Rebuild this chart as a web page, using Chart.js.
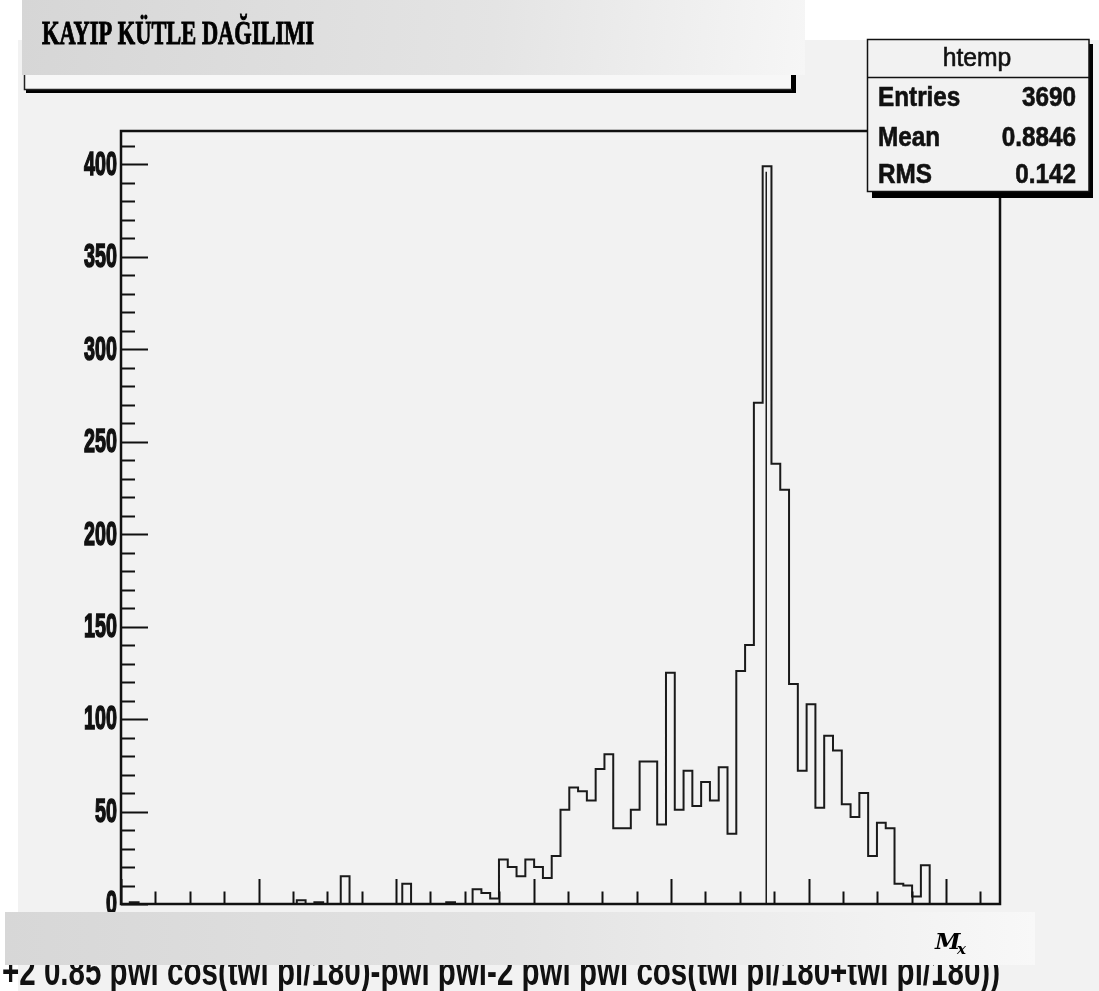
<!DOCTYPE html>
<html>
<head>
<meta charset="utf-8">
<script src="https://cdn.jsdelivr.net/npm/chart.js@4.4.1/dist/chart.umd.min.js"></script>
<style>
  body { margin: 0; background: #fff; }
  #wrap { width: 1099px; height: 991px; }
</style>
</head>
<body>
<div id="wrap"><canvas id="myChart" width="1099" height="991"></canvas></div>
<script>
// text
const titleText = `KAYIP KÜTLE DAĞILIMI`
const axisTitle = `+2 0.85 pwi cos(twi pi/180)-pwi pwi-2 pwi pwi cos(twi pi/180+twi pi/180))`
const histName = `htemp`
const statLabels = [`Entries`, `Mean`, `RMS`]
const statValues = [`3690`, `0.8846`, `0.142`]

// axes
const xMin = 0
const xMax = 1.2785
const yMax = 418
const yTickValues = [0, 50, 100, 150, 200, 250, 300, 350, 400]

// 100 bins, counts
const binCounts = [
  0, 1, 0, 0, 0, 0, 0, 0, 0, 0,
  0, 0, 0, 0, 0, 0, 0, 0, 0, 0,
  2, 0, 1, 0, 0, 15, 0, 0, 0, 0,
  0, 0, 11, 0, 0, 0, 0, 1, 0, 0,
  8, 6, 3, 24, 20, 15, 24, 20, 14, 26,
  51, 63, 61, 56, 73, 81, 41, 41, 51, 77,
  77, 43, 125, 51, 72, 53, 66, 56, 74, 38,
  126, 140, 271, 399, 238, 224, 119, 72, 108, 52,
  91, 83, 54, 47, 60, 26, 44, 41, 11, 10,
  4, 21, 0, 0, 0, 0, 0, 0, 0, 0
]

// vertical marker line
const markerX = 0.9385
const markerTop = 396

const binWidth = (xMax - xMin) / binCounts.length
let histPoints = binCounts.map((c, i) => ({ x: xMin + i * binWidth, y: c }))
histPoints.push({ x: xMax, y: binCounts[binCounts.length - 1] })

const sans = `"Liberation Sans", Arial, sans-serif`

// draw text squeezed horizontally by sx, optional extra stroke weight
function squeezed(ctx, text, x, y, sx, align, weight) {
  const w = ctx.measureText(text).width
  ctx.save()
  ctx.translate(x, y)
  ctx.scale(sx, 1)
  ctx.textAlign = 'left'
  let off = 0
  if (align === 'right') off = -w
  if (align === 'center') off = -w / 2
  ctx.fillText(text, off, 0)
  if (weight) {
    ctx.strokeStyle = ctx.fillStyle
    ctx.lineWidth = weight
    ctx.strokeText(text, off, 0)
  }
  ctx.restore()
}
function fitText(ctx, text, x, y, width, align, weight) {
  squeezed(ctx, text, x, y, width / ctx.measureText(text).width, align, weight)
}

const rootLook = {
  id: 'rootLook',
  beforeDraw(chart) {
    const ctx = chart.ctx
    ctx.save()
    ctx.fillStyle = '#ffffff'
    ctx.fillRect(0, 0, chart.width, chart.height)
    ctx.fillStyle = '#f2f2f2'
    ctx.fillRect(18, 40, chart.width - 18, chart.height - 40)
    ctx.restore()
  },
  afterDatasetsDraw(chart) {
    const { ctx, chartArea: a, scales } = chart
    const x = scales.x, y = scales.y
    ctx.save()
    ctx.strokeStyle = '#111'
    ctx.lineWidth = 2
    ctx.beginPath()
    // y ticks inside the frame
    for (let v = 0; v <= yMax; v += 10) {
      const py = Math.round(y.getPixelForValue(v)) + 0.5
      const len = v % 50 === 0 ? 27 : 14
      ctx.moveTo(a.left, py)
      ctx.lineTo(a.left + len, py)
    }
    // x ticks inside the frame
    for (let k = 0; k * 0.05 <= xMax; k++) {
      const px = Math.round(x.getPixelForValue(k * 0.05)) + 0.5
      const len = k % 4 === 0 ? 25 : 12.5
      ctx.moveTo(px, a.bottom)
      ctx.lineTo(px, a.bottom - len)
    }
    ctx.stroke()
    ctx.lineWidth = 2.5
    ctx.strokeRect(a.left, a.top, a.right - a.left, a.bottom - a.top)

    // y tick labels, tall and narrow like the original
    ctx.fillStyle = '#111'
    ctx.font = `bold 34px ${sans}`
    ctx.textBaseline = 'middle'
    y.ticks.forEach(t => {
      squeezed(ctx, String(t.value), a.left - 4, y.getPixelForValue(t.value) + 1, 0.58, 'right', 1.6)
    })
    ctx.restore()
  },
  afterDraw(chart) {
    const ctx = chart.ctx
    ctx.save()

    // stats box
    ctx.fillStyle = '#000'
    ctx.fillRect(872, 44, 221, 154)
    ctx.fillStyle = '#f2f2f2'
    ctx.fillRect(867, 39, 222, 153)
    ctx.strokeStyle = '#111'
    ctx.lineWidth = 1.5
    ctx.strokeRect(867.5, 39.5, 221.5, 152)
    ctx.beginPath()
    ctx.moveTo(867, 77.5)
    ctx.lineTo(1089, 77.5)
    ctx.stroke()
    ctx.fillStyle = '#111'
    ctx.font = `26px ${sans}`
    squeezed(ctx, histName, 977, 66, 0.95, 'center', 0.6)
    ctx.font = `bold 27px ${sans}`
    const rowY = [106, 146, 183]
    statLabels.forEach((lab, i) => {
      squeezed(ctx, lab, 878, rowY[i], 0.9, 'left', 0.6)
      squeezed(ctx, statValues[i], 1076, rowY[i], 0.9, 'right', 0.6)
    })

    // title pave underneath the overlay
    ctx.fillStyle = '#f7f7f7'
    ctx.fillRect(24, 55, 768, 34)
    ctx.fillStyle = '#000'
    ctx.fillRect(26, 89, 770, 4)
    ctx.fillRect(791, 60, 5, 33)
    ctx.strokeStyle = '#222'
    ctx.lineWidth = 1.5
    ctx.beginPath()
    ctx.moveTo(24.5, 55)
    ctx.lineTo(24.5, 89.5)
    ctx.lineTo(792, 89.5)
    ctx.stroke()

    // gradient overlay with title
    let g = ctx.createLinearGradient(22, 0, 805, 75)
    g.addColorStop(0, '#d6d6d6')
    g.addColorStop(0.6, '#e4e4e4')
    g.addColorStop(1, '#f6f6f6')
    ctx.fillStyle = g
    ctx.fillRect(22, 0, 783, 75)
    ctx.fillStyle = '#000'
    ctx.font = `bold 34px "Liberation Serif", "DejaVu Serif", serif`
    fitText(ctx, titleText, 42, 44, 272, 'left', 1)

    // x axis title, partly hidden by the overlay
    ctx.fillStyle = '#111'
    ctx.font = `bold 40px ${sans}`
    fitText(ctx, axisTitle, 1000, 985, 998, 'right')

    // bottom overlay with M_x
    g = ctx.createLinearGradient(5, 0, 1035, 0)
    g.addColorStop(0, '#d7d7d7')
    g.addColorStop(0.5, '#e3e3e3')
    g.addColorStop(1, '#f8f8f8')
    ctx.fillStyle = g
    ctx.fillRect(5, 912, 1030, 53)
    ctx.fillStyle = '#000'
    ctx.textAlign = 'left'
    ctx.font = `bold italic 23px "DejaVu Serif", "Liberation Serif", serif`
    ctx.fillText('M', 935, 949)
    ctx.font = `bold italic 15px "DejaVu Serif", "Liberation Serif", serif`
    ctx.fillText('x', 957, 954)

    ctx.restore()
  }
}

const ctx = document.getElementById('myChart')
const myChart = new Chart(ctx, {
  type: 'line',
  data: {
    datasets: [{
      label: histName,
      data: histPoints,
      stepped: true,
      borderColor: '#1a1a1a',
      borderWidth: 2,
      pointRadius: 0,
      fill: false
    }, {
      label: 'marker',
      data: [{ x: markerX, y: 0 }, { x: markerX, y: markerTop }],
      borderColor: '#1a1a1a',
      borderWidth: 1.5,
      pointRadius: 0,
      fill: false
    }]
  },
  options: {
    responsive: false,
    animation: false,
    layout: { padding: { top: 131, right: 99, left: 0, bottom: 0 } },
    plugins: { legend: { display: false }, tooltip: { enabled: false } },
    scales: {
      x: {
        type: 'linear',
        min: xMin,
        max: xMax,
        grid: { display: false, drawTicks: false },
        border: { display: false },
        ticks: { display: false },
        afterFit(scale) { scale.height = 87 }
      },
      y: {
        type: 'linear',
        min: 0,
        max: yMax,
        grid: { display: false, drawTicks: false },
        border: { display: false },
        ticks: { display: false },
        afterBuildTicks(scale) {
          scale.ticks = yTickValues.map(v => ({ value: v }))
        },
        afterFit(scale) { scale.width = 121 }
      }
    }
  },
  plugins: [rootLook]
})
</script>
</body>
</html>
